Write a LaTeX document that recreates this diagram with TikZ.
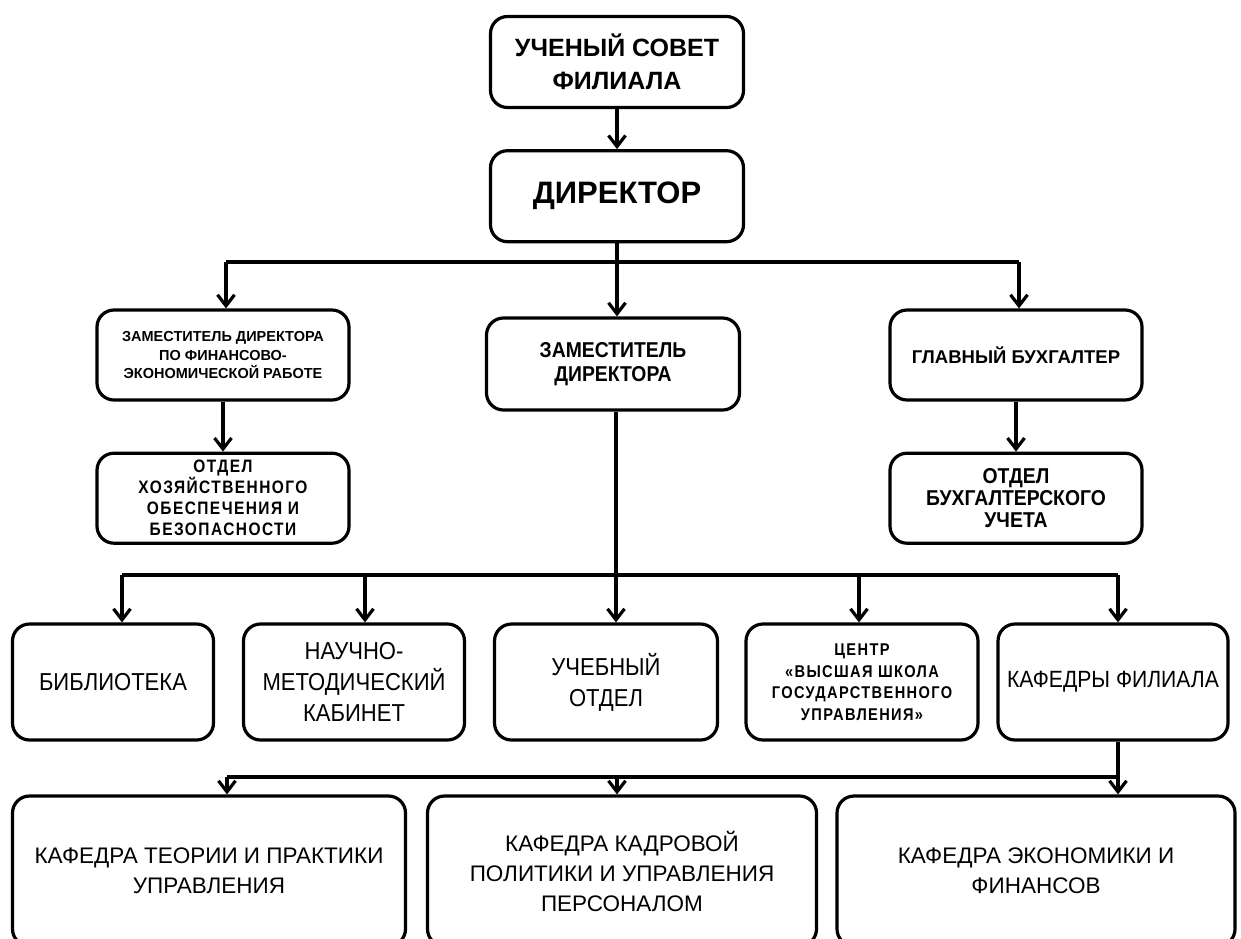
\documentclass[tikz,border=0pt]{standalone}
\usepackage{fontspec}
\setmainfont{Liberation Sans}
\newfontfamily\narrowfont[FakeStretch=0.9]{Liberation Sans}
\newfontfamily\spacedfont[FakeStretch=0.86,LetterSpace=8]{Liberation Sans}
\usetikzlibrary{arrows.meta,positioning,calc}
\tikzset{
    unit/.style={
        rectangle,
        rounded corners=17pt,
        line width=3.2pt,
        draw=black,
        fill=white,
        align=center,
        inner sep=0pt,
    },
    boss/.style={
        unit,
        minimum width=253pt,
        minimum height=91pt,
        font=\bfseries\fontsize{25}{33}\selectfont,
    },
    deputy/.style={
        unit,
        minimum width=252pt,
        minimum height=90pt,
    },
    dept/.style={
        unit,
        minimum height=116pt,
        font=\narrowfont\fontsize{24.5}{31}\selectfont,
    },
    chair/.style={
        unit,
        minimum height=150pt,
        font=\fontsize{22.5}{30}\selectfont,
    },
}

\begin{document}
\begin{tikzpicture}[x=1pt,y=-1pt,>={Straight Barb[length=11pt,width=17pt]},line width=3.2pt]
    \useasboundingbox[fill=white] (0,0) rectangle (1241,938);
    % top
    \node [boss] (council) at (617,62) {УЧЕНЫЙ СОВЕТ\\ФИЛИАЛА};
    \node [boss,font=\bfseries\fontsize{31}{38}\selectfont] (dir) [below=40pt of council] {ДИРЕКТОР};
    % deputies
    \node [deputy,font=\bfseries\fontsize{14.5}{18.5}\selectfont] (zamfin) at (223,355)
        {ЗАМЕСТИТЕЛЬ ДИРЕКТОРА\\ПО ФИНАНСОВО-\\ЭКОНОМИЧЕСКОЙ РАБОТЕ};
    \node [deputy,minimum width=253pt,minimum height=92pt,font=\narrowfont\bfseries\fontsize{21.5}{24}\selectfont] (zam) at (613,364)
        {ЗАМЕСТИТЕЛЬ\\ДИРЕКТОРА};
    \node [deputy,font=\bfseries\fontsize{18.5}{22}\selectfont] (glav) at (1016,355) {ГЛАВНЫЙ БУХГАЛТЕР};
    \node [deputy,font=\spacedfont\bfseries\fontsize{18}{21}\selectfont] (khoz) [below=50pt of zamfin]
        {ОТДЕЛ\\ХОЗЯЙСТВЕННОГО\\ОБЕСПЕЧЕНИЯ И\\БЕЗОПАСНОСТИ};
    \node [deputy,font=\narrowfont\bfseries\fontsize{21.5}{22}\selectfont] (buh) [below=50pt of glav]
        {ОТДЕЛ\\БУХГАЛТЕРСКОГО\\УЧЕТА};
    % units
    \node [dept,minimum width=201pt] (lib) at (113,682) {БИБЛИОТЕКА};
    \node [dept,minimum width=221pt] (nmk) at (354,682) {НАУЧНО-\\МЕТОДИЧЕСКИЙ\\КАБИНЕТ};
    \node [dept,minimum width=223pt] (ucheb) at (606,682) {УЧЕБНЫЙ\\ОТДЕЛ};
    \node [dept,minimum width=232pt,font=\spacedfont\bfseries\fontsize{17}{21.5}\selectfont] (vshgu) at (862,682)
        {ЦЕНТР\\«ВЫСШАЯ ШКОЛА\\ГОСУДАРСТВЕННОГО\\УПРАВЛЕНИЯ»};
    \node [dept,minimum width=230pt,font=\narrowfont\fontsize{23.5}{31}\selectfont] (kaf) at (1113,682) {КАФЕДРЫ ФИЛИАЛА};
    % chairs
    \node [chair,minimum width=393pt] (teor) at (209,871) {КАФЕДРА ТЕОРИИ И ПРАКТИКИ\\УПРАВЛЕНИЯ};
    \node [chair,minimum width=389pt] (kadr) at (622,871) {КАФЕДРА КАДРОВОЙ\\ПОЛИТИКИ И УПРАВЛЕНИЯ\\ПЕРСОНАЛОМ};
    \node [chair,minimum width=398pt] (econ) at (1036,871) {КАФЕДРА ЭКОНОМИКИ И\\ФИНАНСОВ};
    % bus points
    \coordinate (b1) at (617,262);
    \coordinate (b1l) at (226,262);
    \coordinate (b1r) at (1019,262);
    \coordinate (b2) at (616,575);
    \coordinate (b2a) at (122,575);
    \coordinate (b2b) at (365,575);
    \coordinate (b2d) at (859,575);
    \coordinate (b2e) at (1118,575);
    \coordinate (b3) at (1118,777);
    \coordinate (b3a) at (227,777);
    \coordinate (b3b) at (617,777);
    % connectors
    \draw[->] (council) -- (dir);
    \draw (dir) -- (b1);
    \draw (b1l) -- (b1r);
    \draw[->] (b1l) -- (b1l |- zamfin.north);
    \draw[->] (b1) -- (b1 |- zam.north);
    \draw[->] (b1r) -- (b1r |- glav.north);
    \draw[->] (zamfin) -- (khoz);
    \draw[->] (glav) -- (buh);
    \draw (zam.south -| b2) -- (b2);
    \draw (b2a) -- (b2e);
    \draw[->] (b2a) -- (b2a |- lib.north);
    \draw[->] (b2b) -- (b2b |- nmk.north);
    \draw[->] (b2) -- (b2 |- ucheb.north);
    \draw[->] (b2d) -- (b2d |- vshgu.north);
    \draw[->] (b2e) -- (b2e |- kaf.north);
    \draw (kaf.south -| b3) -- (b3);
    \draw (b3a) -- (b3);
    \draw[->] (b3a) -- (b3a |- teor.north);
    \draw[->] (b3b) -- (b3b |- kadr.north);
    \draw[->] (b3) -- (b3 |- econ.north);
\end{tikzpicture}
\end{document}
